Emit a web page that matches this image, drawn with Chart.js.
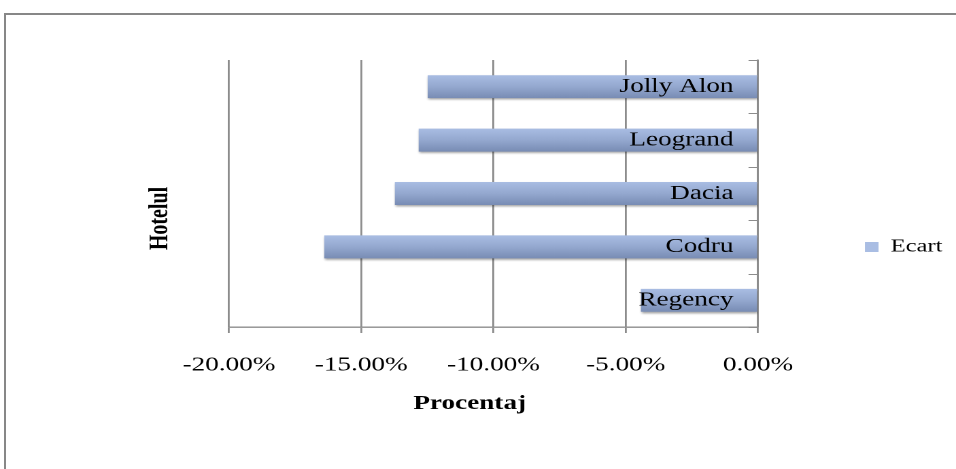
<!DOCTYPE html>
<html><head><meta charset="utf-8">
<script src="https://cdn.jsdelivr.net/npm/chart.js@4.4.1/dist/chart.umd.min.js"></script>
<style>
html,body{margin:0;padding:0;background:#fff;overflow:hidden;width:956px;height:469px}
#frame{position:absolute;left:4px;top:13px;width:1000px;height:1000px;border:2px solid #878787;box-sizing:border-box}
#wrap{position:absolute;left:0;top:0;width:703px;height:469px;transform:scaleX(1.3599);transform-origin:0 0}
</style></head><body>
<div id="frame"></div>
<div id="wrap"><canvas id="c"></canvas></div>
<script>
// ---- data (Excel order, bottom to top) ----
const categories = ['Regency', 'Codru', 'Dacia', 'Leogrand', 'Jolly Alon'];
const ecartValues = [-0.0443, -0.1640, -0.1373, -0.1283, -0.1249];
const tickValues = [-0.20, -0.15, -0.10, -0.05, 0.00];
const seriesName = 'Ecart';
const axisTitleX = 'Procentaj';
const axisTitleY = 'Hotelul';

const BAR_PCT = 0.43;
const GRID = '#8c8c8c';
Chart.defaults.font.family = '"Liberation Serif", "Times New Roman", serif';
Chart.defaults.color = '#000';

function barFill(ctx) {
  const chart = ctx.chart;
  if (!chart.chartArea || ctx.dataIndex === undefined || !chart.scales.y) return '#93a6cc';
  const ys = chart.scales.y;
  const c = ys.getPixelForValue(ctx.dataIndex);
  const h = ys.height / categories.length * BAR_PCT;
  const g = chart.ctx.createLinearGradient(0, c - h / 2, 0, c + h / 2);
  g.addColorStop(0, '#a9bde3');
  g.addColorStop(0.5, '#94a8cf');
  g.addColorStop(1, '#788cb4');
  return g;
}

const shadowPlugin = {
  id: 'barShadow',
  beforeDatasetsDraw(chart) {
    const c = chart.ctx;
    c.save();
    c.shadowColor = 'rgba(0,0,0,0.35)';
    c.shadowBlur = 4;
    c.shadowOffsetX = 1;
    c.shadowOffsetY = 3;
  },
  afterDatasetsDraw(chart) { chart.ctx.restore(); }
};

const yTickPlugin = {
  id: 'yTicks',
  afterDatasetsDraw(chart) {
    const s = chart.scales.y;
    const c = chart.ctx;
    const n = categories.length;
    const r = chart.chartArea.right;
    c.save();
    c.strokeStyle = GRID;
    c.lineWidth = 1;
    for (let i = 0; i <= n; i++) {
      const y = Math.round(s.top + i * s.height / n) + 0.5;
      c.beginPath();
      c.moveTo(r - 7, y);
      c.lineTo(r, y);
      c.stroke();
    }
    c.restore();
  }
};

new Chart(document.getElementById('c'), {
  type: 'bar',
  data: {
    labels: categories,
    datasets: [{
      label: seriesName,
      data: ecartValues,
      backgroundColor: barFill,
      borderWidth: 0,
      barPercentage: BAR_PCT,
      categoryPercentage: 1,
      xAxisID: 'x',
      yAxisID: 'y'
    }]
  },
  options: {
    indexAxis: 'y',
    responsive: true,
    maintainAspectRatio: false,
    animation: false,
    devicePixelRatio: 2,
    layout: { padding: { top: 60, bottom: 35, left: 0, right: 0 } },
    plugins: {
      tooltip: { enabled: false },
      legend: {
        position: 'right',
        align: 'center',
        labels: { boxWidth: 10, boxHeight: 10, padding: 10, font: { size: 18 }, color: '#000' }
      }
    },
    scales: {
      x: {
        type: 'linear',
        min: -0.2,
        max: 0,
        afterBuildTicks: s => { s.ticks = tickValues.map(v => ({ value: v })); },
        afterFit: s => { s.height = 107; },
        ticks: { callback: v => (v * 100).toFixed(2) + '%', font: { size: 20 }, color: '#000', padding: 20 },
        grid: { color: GRID, lineWidth: 1.4, tickLength: 6, drawTicks: true },
        border: { display: true, color: GRID, width: 1.4 },
        title: { display: true, text: axisTitleX + ' '.repeat(7), font: { size: 20, weight: 'bold' }, color: '#000', padding: { top: 10, bottom: 18 } }
      },
      y: {
        type: 'category',
        position: 'right',
        reverse: true,
        afterFit: s => { s.width = 68.6; },
        grid: { display: false },
        border: { display: true, color: GRID, width: 1.4 },
        ticks: { mirror: true, padding: -18, z: 1, font: { size: 20 }, color: '#000' }
      },
      y2: {
        type: 'category',
        labels: categories,
        position: 'left',
        afterFit: s => { s.width = 168.4; },
        grid: { display: false },
        border: { display: false },
        ticks: { display: false },
        title: { display: true, text: axisTitleY + ' '.repeat(10), font: { size: 20, weight: 'bold' }, color: '#000', padding: { top: 105.6, bottom: 38.8 } }
      }
    }
  },
  plugins: [shadowPlugin, yTickPlugin]
});
</script>
</body></html>
